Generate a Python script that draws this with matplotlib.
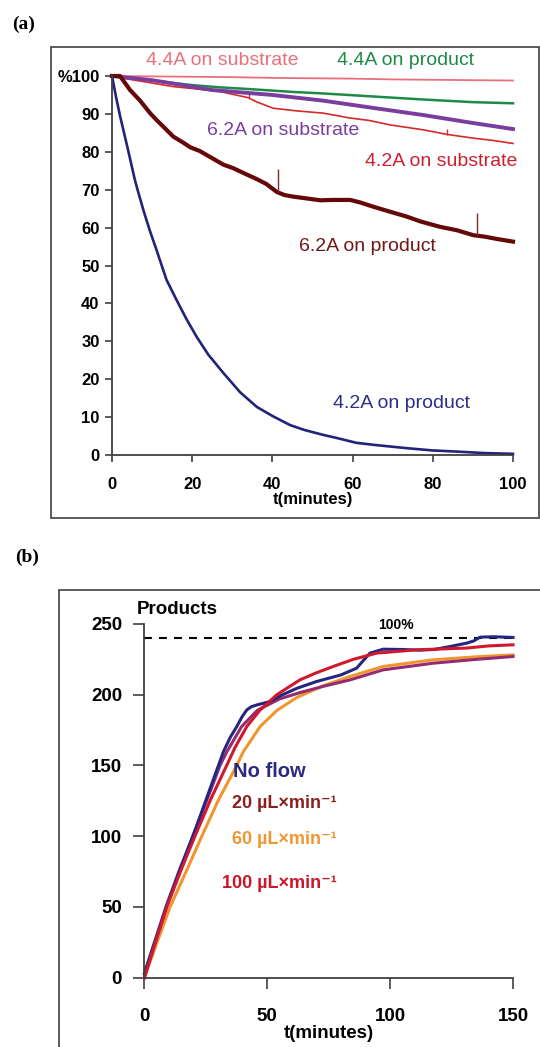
import matplotlib
matplotlib.use("Agg")
import matplotlib.pyplot as plt
from matplotlib.patches import Rectangle

plt.rcParams['font.family'] = ['Liberation Sans', 'DejaVu Sans']

# ---------------- Panel (a) data ----------------
t_44sub = [0, 10, 20, 30, 40, 50, 60, 70, 80, 90, 100]
y_44sub = [100, 99.9, 99.8, 99.7, 99.5, 99.4, 99.3, 99.1, 99.0, 98.9, 98.8]

t_44prod = [0, 10, 20, 27, 35, 45, 52.6, 65, 77.6, 90, 100]
y_44prod = [100, 98.8, 97.6, 97.0, 96.5, 95.8, 95.4, 94.6, 93.8, 93.1, 92.8]

t_62sub = [0, 10, 25, 40, 52.6, 65, 77.6, 90, 100]
y_62sub = [100, 98.9, 96.3, 95.0, 93.5, 91.6, 89.7, 87.6, 86.0]

t_42sub = [0, 2.8, 8, 15.3, 20, 26.9, 33.9, 36, 40.2, 46, 52.7, 59.4, 64,
           69.3, 77.6, 83.5, 90.1, 95, 100]
y_42sub = [100, 99.4, 98.5, 97.2, 96.7, 95.9, 94.3, 93.2, 91.5, 90.8, 90.2, 88.9, 88.3,
           87.1, 85.8, 84.6, 83.6, 83.0, 82.2]

t_62prod = [0, 2, 4.5, 7, 9.5, 11.1, 13.6, 15.3, 17.8, 19.5, 21.9, 25, 27.8, 30.2, 33, 36.1,
            38.5, 41.1, 43, 45, 48.5, 52, 55, 59.4, 62, 65.2, 69, 73.5, 77, 81.8, 86, 90.1,
            93, 96, 100]
y_62prod = [100, 100, 96.3, 93.5, 90.2, 88.4, 85.8, 84, 82.4, 81.2, 80.2, 78.3, 76.6, 75.7, 74.3, 72.8,
            71.5, 69.4, 68.6, 68.2, 67.7, 67.2, 67.3, 67.3, 66.6, 65.5, 64.3, 62.9, 61.6, 60.2, 59.3, 58.0,
            57.6, 57.0, 56.3]

# short vertical glitches (spikes) on the traces
spike_62prod_t = [41.4, 90.9]
spike_62prod_lo = [69.3, 58.0]
spike_62prod_hi = [75.5, 63.8]
spike_42sub_t = [34.2, 83.6]
spike_42sub_lo = [94.1, 84.5]
spike_42sub_hi = [95.6, 86.0]

t_42prod = [0, 1, 2, 3, 4, 5.7, 6.5, 8, 9.5, 11.1, 13.6, 16.1, 18.5, 21.1, 24, 27.8, 32, 36.1,
            40, 44.4, 48, 52.7, 56, 61, 66, 73.5, 80, 86, 93, 100]
y_42prod = [100, 94.5, 89.5, 85, 80.5, 72.6, 69.5, 64, 59, 54.1, 46.2, 40.9, 36, 31.2, 26.5, 21.6,
            16.5, 12.7, 10.3, 7.9, 6.6, 5.3, 4.5, 3.2, 2.6, 1.8, 1.2, 0.9, 0.5, 0.3]

a_xticks = [0, 20, 40, 60, 80, 100]
a_yticks = [0, 10, 20, 30, 40, 50, 60, 70, 80, 90, 100]
a_yticklabels = ['0', '10', '20', '30', '40', '50', '60', '70', '80', '90', '%100']

# ---------------- Panel (b) data ----------------
t_noflow = [0, 4.5, 9, 14.5, 20, 26, 32.2, 35, 37.6, 39.8, 41.7, 43.5, 45.8, 48.5, 51.1, 55,
            62, 70, 80, 86.4, 89, 91.8, 97.2, 105, 112, 118, 124.4, 131.2, 134, 136.6, 142, 150]
y_noflow = [3, 27, 51, 77, 101, 130, 159.8, 170, 177.5, 184.5, 189.3, 191.5, 192.8, 194, 195.2, 199,
            204.5, 209.3, 214, 218.8, 224, 229.4, 232.2, 232, 231.5, 232, 234.1, 236.5, 238, 240.7, 241, 240.5]

t_100 = [0, 4.5, 9.1, 14.7, 20.6, 27, 33.5, 37, 41.7, 47, 53.9, 63.3, 70, 76.9, 85, 94.5, 102,
         110.8, 120, 131.2, 140, 150]
y_100 = [0, 25, 50, 75, 100, 126, 150, 163, 177.5, 189, 200, 210.5, 215.5, 220, 225, 229.4, 230.5,
         231.8, 232.3, 233, 234.5, 235.3]

t_60 = [0, 5, 10.5, 17, 23.4, 30, 37.6, 40.3, 47.1, 54, 62, 73, 83.7, 97.2, 117.6, 135, 150]
y_60 = [0, 24, 50, 75, 100, 125, 150, 159.8, 177.5, 189, 198, 206.5, 212.9, 220, 224.7, 226.8, 228.2]

t_20 = [0, 4.5, 9.1, 14.5, 19.7, 26, 30.8, 33.6, 39.6, 46, 55, 63.3, 73, 83.7, 97.2, 117.6, 135, 150]
y_20 = [0, 25, 50, 75, 100, 128, 150, 159.8, 177.5, 189, 197, 201.5, 206, 210.5, 217.6, 222.3, 225, 227]

full_level = 240
b_xticks = [0, 50, 100, 150]
b_yticks = [0, 50, 100, 150, 200, 250]

AXC = '#404040'

fig = plt.figure(figsize=(5.4, 10.47), dpi=100)

# frames
fig.patches.append(Rectangle((0.0944, 0.5053), 0.9036, 0.4498, transform=fig.transFigure,
                             fill=False, edgecolor=AXC, linewidth=1.2))
fig.patches.append(Rectangle((0.109, -0.02), 0.95, 0.4565, transform=fig.transFigure,
                             fill=False, edgecolor=AXC, linewidth=1.2))
fig.text(12 / 540, 1 - 24 / 1047, '(a)', family='Liberation Serif', fontweight='bold',
         fontsize=14, ha='left', va='center')
fig.text(15 / 540, 1 - 557 / 1047, '(b)', family='Liberation Serif', fontweight='bold',
         fontsize=14, ha='left', va='center')


def style_axes(ax, labelsize, ypad, xpad, ylen, xlen):
    for s in ['top', 'right']:
        ax.spines[s].set_visible(False)
    for s in ['left', 'bottom']:
        ax.spines[s].set_color(AXC)
        ax.spines[s].set_linewidth(1.3)
    ax.tick_params(axis='y', direction='out', length=ylen, width=1.2, color=AXC,
                   labelsize=labelsize, pad=ypad)
    ax.tick_params(axis='x', direction='out', length=xlen, width=1.2, color=AXC,
                   labelsize=labelsize, pad=xpad)
    for lab in ax.get_xticklabels() + ax.get_yticklabels():
        lab.set_fontweight('bold')
    ax.patch.set_alpha(0)


# ---------------- Panel (a) ----------------
axa = fig.add_axes([112 / 540, 1 - 455 / 1047, (513 - 112) / 540, (455 - 76) / 1047])
axa.set_xlim(0, 100)
axa.set_ylim(0, 100)
c_44sub, c_44prod, c_42sub = '#e8707c', '#1e8a48', '#d42a2a'
c_62sub, c_62prod, c_42prod = '#7a3d9e', '#650808', '#23237a'
axa.plot(t_44sub, y_44sub, color=c_44sub, lw=1.3, clip_on=False)
axa.plot(t_44prod, y_44prod, color=c_44prod, lw=1.8, clip_on=False)
axa.plot(t_42sub, y_42sub, color=c_42sub, lw=1.2, clip_on=False)
axa.vlines(spike_42sub_t, spike_42sub_lo, spike_42sub_hi, color=c_42sub, lw=1.0)
axa.plot(t_62sub, y_62sub, color=c_62sub, lw=2.8, clip_on=False)
axa.plot(t_62prod, y_62prod, color=c_62prod, lw=3.0, clip_on=False)
axa.vlines(spike_62prod_t, spike_62prod_lo, spike_62prod_hi, color='#7a2a2a', lw=1.0)
axa.plot(t_42prod, y_42prod, color=c_42prod, lw=1.9, clip_on=False)
axa.set_xticks(a_xticks)
axa.set_yticks(a_yticks)
axa.set_yticklabels(a_yticklabels)
style_axes(axa, 12, 4, 11, 5, 5)
axa.set_xlabel('t(minutes)', fontsize=12, fontweight='bold', labelpad=0)

afs = 14
axa.text(27.4, 104.2, '4.4A on substrate', color=c_44sub, fontsize=afs, ha='center', va='center')
axa.text(73.1, 104.2, '4.4A on product', color=c_44prod, fontsize=afs, ha='center', va='center')
axa.text(42.7, 85.5, '6.2A on substrate', color=c_62sub, fontsize=afs, ha='center', va='center')
axa.text(82.2, 77.4, '4.2A on substrate', color='#cc2030', fontsize=afs, ha='center', va='center')
axa.text(63.7, 55.0, '6.2A on product', color='#701818', fontsize=afs, ha='center', va='center')
axa.text(72.2, 13.5, '4.2A on product', color='#2e2e88', fontsize=afs, ha='center', va='center')

# ---------------- Panel (b) ----------------
axb = fig.add_axes([144.3 / 540, 1 - 977.7 / 1047, (513 - 144.3) / 540, (977.7 - 624) / 1047])
axb.set_xlim(0, 150)
axb.set_ylim(0, 250)
axb.plot([0, 150], [full_level, full_level], color='black', lw=1.5, dashes=[3.8, 3.4])
axb.plot(t_60, y_60, color='#f0962e', lw=2.2, clip_on=False)
axb.plot(t_20, y_20, color='#942c72', lw=2.2, clip_on=False)
axb.plot(t_noflow, y_noflow, color='#262680', lw=2.2, clip_on=False)
axb.plot(t_100, y_100, color='#d0182e', lw=2.2, clip_on=False)
axb.set_xticks(b_xticks)
axb.set_yticks(b_yticks)
style_axes(axb, 13.5, 8, 14, 8, 8)
axb.set_xlabel('t(minutes)', fontsize=13.5, fontweight='bold', labelpad=0)

axb.text(-3.0, 260, 'Products', fontsize=13.5, fontweight='bold', ha='left', va='center')
axb.text(102.5, 249.6, '100%', fontsize=10, fontweight='bold', ha='center', va='center')
axb.text(36.2, 145.8, 'No flow', color='#2a2a80', fontsize=14.5, fontweight='bold', ha='left', va='center')
axb.text(78.3, 123.3, '20 µL×min⁻¹', color='#8b2020', fontsize=13, fontweight='bold', ha='right', va='center')
axb.text(78.3, 97.4, '60 µL×min⁻¹', color='#f0962e', fontsize=13, fontweight='bold', ha='right', va='center')
axb.text(78.3, 66.8, '100 µL×min⁻¹', color='#c8182a', fontsize=13, fontweight='bold', ha='right', va='center')

fig.savefig('out.png', dpi=100)
